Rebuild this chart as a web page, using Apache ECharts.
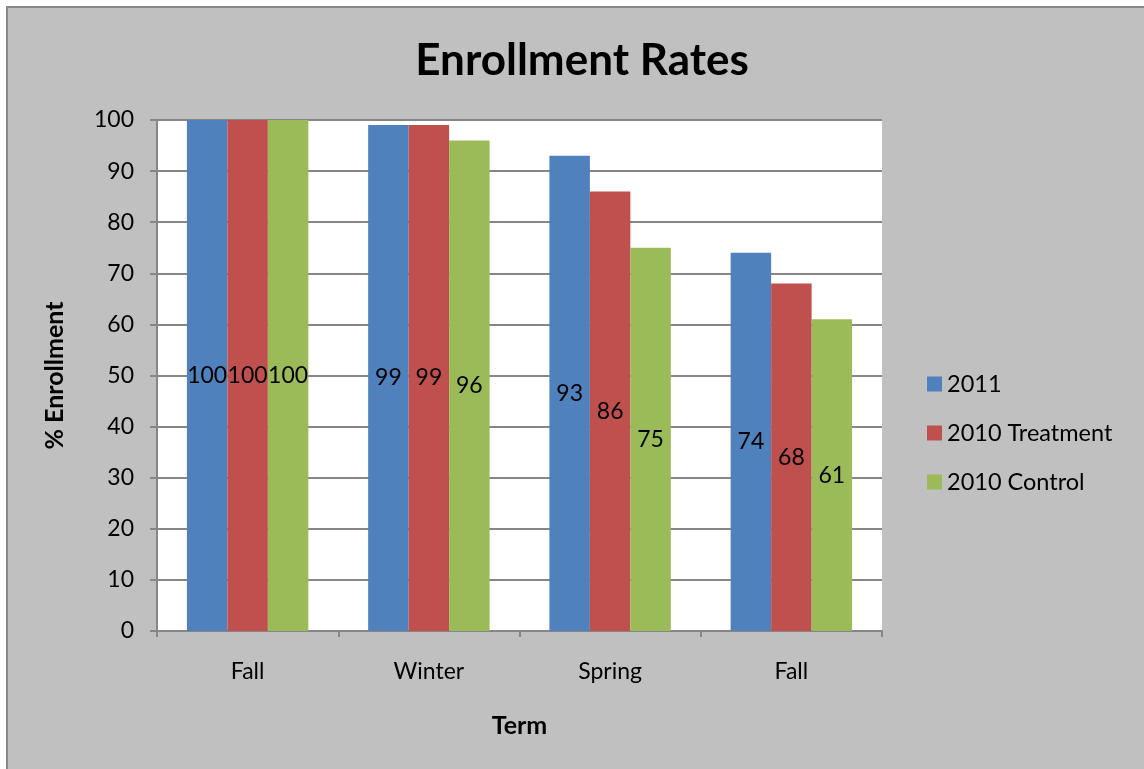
<!DOCTYPE html>
<html>
<head>
<meta charset="utf-8">
<title>Enrollment Rates</title>
<script src="https://cdn.jsdelivr.net/npm/echarts@6/dist/echarts.min.js"></script>
<style>
  html, body { margin: 0; padding: 0; background: #fff; }
  #chart { width: 1144px; height: 769px; }
</style>
</head>
<body>
<div id="chart"></div>
<script>
// data
var terms = ["Fall", "Winter", "Spring", "Fall"];
var y2011 = [100, 99, 93, 74];
var treat2010 = [100, 99, 86, 68];
var control2010 = [100, 96, 75, 61];

var FONT = "Lato, 'Open Sans', sans-serif";

var myChart = echarts.init(document.getElementById("chart"));

var labelOption = {
  show: true,
  position: "inside",
  color: "#000",
  fontSize: 23,
  fontFamily: FONT,
};

var option = {
  backgroundColor: "#ffffff",
  animation: false,
  textStyle: { fontFamily: FONT },
  graphic: [
    {
      type: "rect",
      z: -10,
      shape: { x: 7, y: 7, width: 1200, height: 800 },
      style: { fill: "#c0c0c0", stroke: "#878787", lineWidth: 2 },
    },
  ],
  title: {
    text: "Enrollment Rates",
    left: 577,
    top: 34,
    textAlign: "center",
    textStyle: { fontSize: 44, fontWeight: "bold", color: "#000", fontFamily: FONT },
  },
  legend: {
    orient: "vertical",
    left: 922,
    top: 367,
    itemWidth: 15,
    itemHeight: 15,
    itemGap: 25,
    icon: "rect",
    textStyle: { fontSize: 23.5, color: "#000", fontFamily: FONT },
    data: ["2011", "2010 Treatment", "2010 Control"],
  },
  grid: {
    left: 157,
    top: 120,
    right: 262,
    bottom: 138,
    show: true,
    backgroundColor: "#ffffff",
    borderWidth: 0,
  },
  xAxis: {
    type: "category",
    data: terms,
    name: "Term",
    nameLocation: "middle",
    nameGap: 82,
    nameTextStyle: { fontSize: 25, fontWeight: "bold", color: "#000", fontFamily: FONT },
    axisLine: { lineStyle: { color: "#868686", width: 2 } },
    axisTick: { show: true, length: 6, alignWithLabel: false, lineStyle: { color: "#868686", width: 2 } },
    axisLabel: { fontSize: 23, color: "#000", margin: 29, fontFamily: FONT },
  },
  yAxis: {
    type: "value",
    min: 0,
    max: 100,
    interval: 10,
    name: "% Enrollment",
    nameLocation: "middle",
    nameGap: 90,
    nameRotate: 90,
    nameTextStyle: { fontSize: 25, fontWeight: "bold", color: "#000", fontFamily: FONT },
    axisLine: { show: true, lineStyle: { color: "#868686", width: 2 } },
    axisTick: { show: true, length: 7, lineStyle: { color: "#868686", width: 2 } },
    axisLabel: { fontSize: 23, color: "#000", margin: 23, fontFamily: FONT },
    splitLine: { show: true, lineStyle: { color: "#868686", width: 2 } },
  },
  series: [
    {
      name: "2011",
      type: "bar",
      barGap: 0,
      barCategoryGap: "33%",
      itemStyle: { color: "#4f81bd" },
      label: labelOption,
      data: y2011,
    },
    {
      name: "2010 Treatment",
      type: "bar",
      itemStyle: { color: "#c0504d" },
      label: labelOption,
      data: treat2010,
    },
    {
      name: "2010 Control",
      type: "bar",
      itemStyle: { color: "#9bbb59" },
      label: labelOption,
      data: control2010,
    },
  ],
};

myChart.setOption(option);
</script>
</body>
</html>
